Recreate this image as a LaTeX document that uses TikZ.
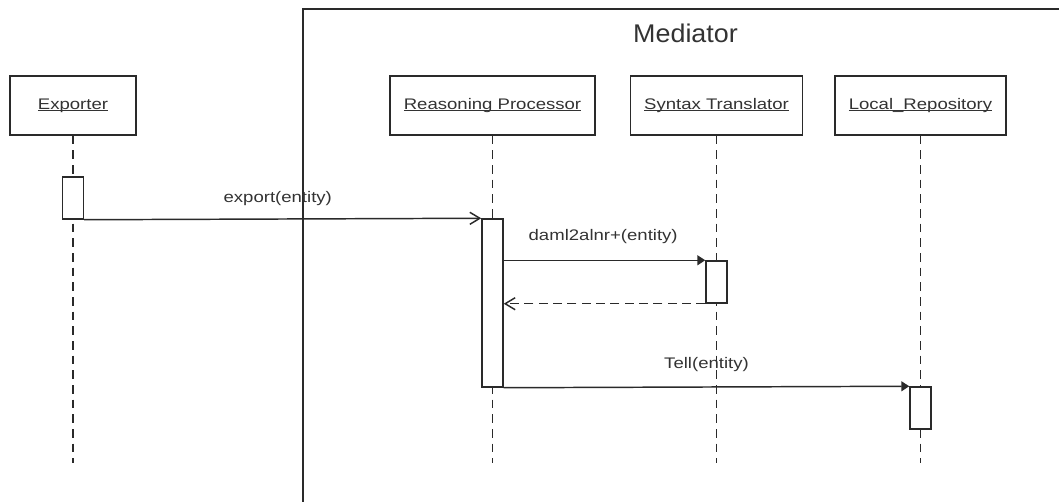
\documentclass[tikz,border=0pt]{standalone}
\usepackage{fontspec}
\setmainfont{Liberation Sans}
\newfontfamily\lblfont[FakeStretch=1.21]{Liberation Sans}
\newfontfamily\titlefont[FakeStretch=1.05]{Liberation Sans}
\usetikzlibrary{arrows.meta}
\definecolor{ink}{HTML}{2A2A2A}
\definecolor{txt}{HTML}{333333}
\newcommand\undl[1]{\setbox0\hbox{#1}\rlap{\rule[-1.5pt]{\wd0}{0.8pt}}\box0}
\tikzset{
  objbox/.style={draw=ink, line width=1.1pt, fill=white, inner sep=0pt,
     minimum height=44.25pt, font=\lblfont\fontsize{11.5}{13}\selectfont, text=txt},
  actbox/.style={draw=ink, line width=1.1pt, fill=white, inner sep=0pt,
     minimum width=15.75pt},
  lifeline/.style={draw=ink, line width=1.1pt, dash pattern=on 6.5pt off 4.5pt},
  msglbl/.style={font=\lblfont\fontsize{11.5}{13}\selectfont, text=txt, anchor=base, inner sep=0pt},
  callmsg/.style={draw=ink, line width=1.1pt, -{Triangle[length=6pt,width=7.5pt]}},
  asyncmsg/.style={draw=ink, line width=1.1pt, -{Straight Barb[length=7.5pt,width=9pt]}},
  retmsg/.style={draw=ink, line width=1.1pt, dash pattern=on 6.75pt off 4pt, -{Straight Barb[length=7.5pt,width=9pt]}},
  framestyle/.style={draw=ink, line width=1.4pt}
}
\begin{document}
\begin{tikzpicture}[x=0.75pt,y=-0.75pt]
\useasboundingbox[fill=white] (0,0) rectangle (1059,502);
% Mediator frame (open to the right and bottom)
\coordinate (fr1) at (1059,9);
\coordinate (fr2) at (303,9);
\coordinate (fr3) at (303,502);
\draw[framestyle] (fr1) -- (fr2) -- (fr3);
\node[font=\titlefont\fontsize{19.2}{22}\selectfont, text=txt, anchor=base, inner sep=0pt] (medlbl) at (685.5,43) {Mediator};

% object boxes
\node[objbox, minimum width=94.5pt] (exp) at (73,105.5) {\undl{Exporter}};
\node[objbox, minimum width=153.75pt] (rp) at (492.5,105.5) {\undl{Reasoning Processor}};
\node[objbox, minimum width=129pt] (st) at (716.5,105.5) {\undl{Syntax Translator}};
\node[objbox, minimum width=128.25pt] (lr) at (920.5,105.5) {\undl{Local\_Repository}};

% lifeline ends
\coordinate (expend) at (73,463);
\coordinate (rpend) at (492.5,463);
\coordinate (stend) at (716.5,463);
\coordinate (lrend) at (920.5,463);
\draw[lifeline] (exp.south) -- (expend);
\draw[lifeline] (rp.south) -- (rpend);
\draw[lifeline] (st.south) -- (stend);
\draw[lifeline] (lr.south) -- (lrend);

% activations
\node[actbox, minimum height=31.5pt] (expact) at (73,198) {};
\node[actbox, minimum height=126pt] (rpact) at (492.5,303) {};
\node[actbox, minimum height=31.5pt] (stact) at (716.5,282) {};
\node[actbox, minimum height=31.5pt] (lract) at (920.5,408) {};

% messages
\draw[asyncmsg] (expact.south east) -- (rpact.north west)
   node[msglbl, midway, xshift=-3.75pt, yshift=12pt] (m1) {export(entity)};
\draw[callmsg] (rpact.east |- stact.north west) -- (stact.north west)
   node[msglbl, midway, xshift=-1pt, yshift=15pt] (m2) {daml2alnr+(entity)};
\draw[retmsg] (stact.south west) -- (rpact.east |- stact.south west);
\draw[callmsg] (rpact.south east) -- (lract.north west)
   node[msglbl, midway, yshift=14.25pt] (m3) {Tell(entity)};
\end{tikzpicture}
\end{document}
